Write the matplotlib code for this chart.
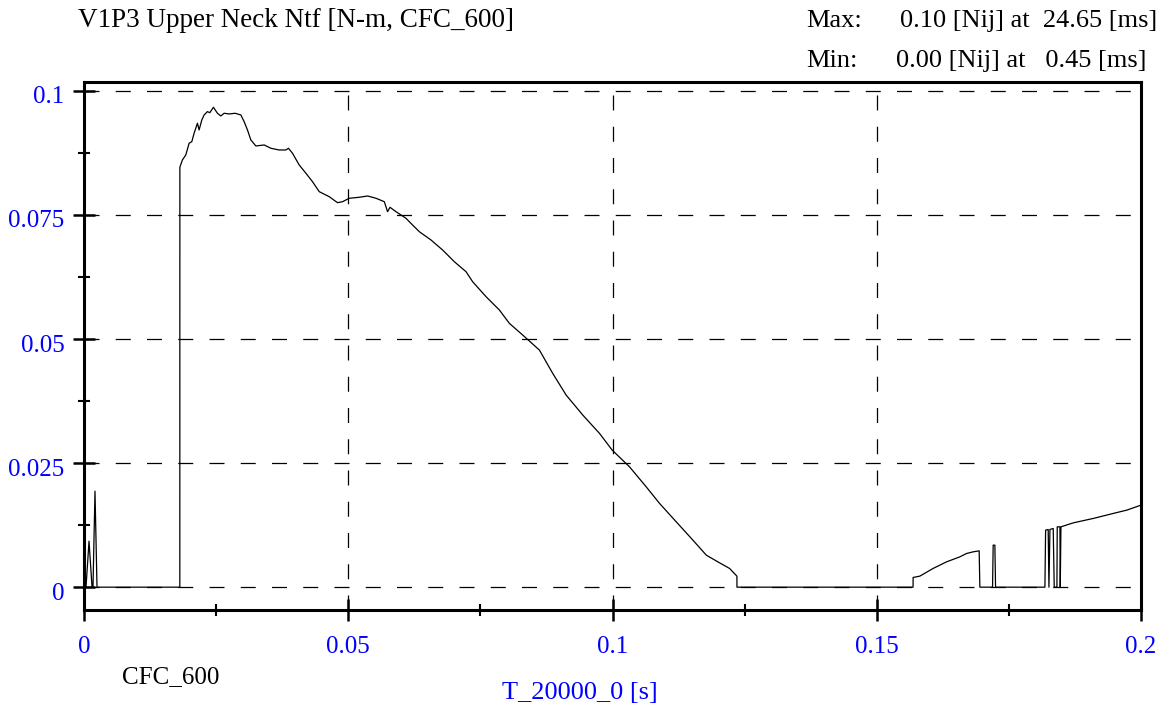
import matplotlib
matplotlib.use("Agg")
import matplotlib.pyplot as plt
from matplotlib.ticker import MultipleLocator
from matplotlib.transforms import ScaledTranslation

# Nij trace: time in ms, value in Nij
t_ms = [0.0, 0.38, 0.95, 1.52, 1.70, 2.08, 2.46, 18.13,
        18.14, 18.62, 19.26, 19.89, 20.40, 20.83, 21.46, 21.78, 22.29, 22.73,
        23.35, 23.81, 24.49, 25.25, 25.89, 26.52, 27.46, 28.60, 29.68, 30.30,
        30.93, 31.57, 32.52, 34.09, 35.36, 36.93, 38.20, 38.69, 39.45, 40.72,
        41.99, 43.24, 44.51, 46.40, 47.97, 48.92, 50.19, 52.08, 53.66, 55.25,
        56.82, 57.44, 57.90, 59.03, 60.93, 61.55, 63.45, 65.66, 67.86, 70.08,
        72.29, 73.54, 76.08, 78.60, 80.49, 83.01, 86.17, 88.69, 91.23, 94.38,
        97.54, 99.94, 103.22, 106.38, 108.90, 112.06, 115.21, 117.75, 120.27,
        122.16, 123.54, 123.55,
        156.87, 156.88, 158.14, 160.66, 163.20, 165.72, 166.99, 168.24, 169.38,
        169.51, 171.91, 172.03, 172.35, 172.48,
        181.82, 181.95, 182.44, 182.58, 182.77, 183.39, 183.58, 184.09, 184.15,
        184.66, 184.72, 184.85,
        187.18, 190.97, 194.75, 197.29, 200.0]
nij = [0.0, 0.0, 0.00927, 0.0, 0.0, 0.01935, 0.0, 0.0,
       0.08462, 0.08609, 0.08710, 0.08946, 0.08978, 0.09147, 0.09349, 0.09214,
       0.09415, 0.09516, 0.09583, 0.09562, 0.09671, 0.09550, 0.09496, 0.09550,
       0.09536, 0.09550, 0.09516, 0.09381, 0.09214, 0.09012, 0.08891, 0.08911,
       0.08845, 0.08810, 0.08810, 0.08845, 0.08744, 0.08508, 0.08341, 0.08171,
       0.07970, 0.07869, 0.07748, 0.07768, 0.07837, 0.07857, 0.07883, 0.07837,
       0.07768, 0.07567, 0.07655, 0.07567, 0.07433, 0.07365, 0.07163, 0.06996,
       0.06794, 0.06558, 0.06357, 0.06155, 0.05853, 0.05585, 0.05316, 0.05081,
       0.04778, 0.04308, 0.03871, 0.03468, 0.03099, 0.02762, 0.02425, 0.02022,
       0.01688, 0.01317, 0.00948, 0.00645, 0.00490, 0.00377, 0.00222, 0.0,
       0.0, 0.00196, 0.00222, 0.00377, 0.00510, 0.00611, 0.00679, 0.00712,
       0.00732, 0.0, 0.0, 0.00847, 0.00847, 0.0,
       0.0, 0.01149, 0.01163, 0.0, 0.01163, 0.01183, 0.0, 0.0, 0.01216,
       0.01216, 0.0, 0.01216,
       0.01296, 0.01385, 0.01486, 0.01552, 0.01653]

x_ticks = [0, 0.05, 0.1, 0.15, 0.2]
x_labels = ["0", "0.05", "0.1", "0.15", "0.2"]
y_ticks = [0, 0.025, 0.05, 0.075, 0.1]
y_labels = ["0", "0.025", "0.05", "0.075", "0.1"]

BLUE = "#0000ff"
W, H = 1167, 710

plt.rcParams["font.family"] = ["Liberation Serif", "DejaVu Serif"]
plt.rcParams["font.size"] = 18

fig = plt.figure(figsize=(W / 100, H / 100), dpi=100)
ax = fig.add_axes([84 / W, 1 - 610 / H, (1141 - 84) / W, (610 - 82) / H])

t_s = [v / 1000.0 for v in t_ms]
ax.plot(t_s, nij, color="black", linewidth=0.9)

ax.set_xlim(0, 0.2)
ax.set_ylim(-0.0046, 0.1018)

ax.set_xticks(x_ticks)
ax.set_xticklabels(x_labels, color=BLUE)
ax.set_yticks(y_ticks)
ax.set_yticklabels(y_labels, color=BLUE)
ax.xaxis.set_minor_locator(MultipleLocator(0.025))
ax.yaxis.set_minor_locator(MultipleLocator(0.0125))

ax.tick_params(which="major", direction="inout", length=16, width=1.8)
ax.tick_params(which="minor", direction="inout", length=9, width=1.5)
ax.tick_params(axis="x", which="major", pad=11)
ax.tick_params(axis="y", which="major", pad=6)
ax.tick_params(top=False, right=False)

# y labels sit a few pixels below their ticks in the original
shift = ScaledTranslation(0, -4 / 100, fig.dpi_scale_trans)
for lab in ax.get_yticklabels():
    lab.set_transform(lab.get_transform() + shift)

for s in ax.spines.values():
    s.set_linewidth(2.2)

# dashed grid lines (skip the ones on the frame)
for y in y_ticks:
    ax.axhline(y, color="black", linewidth=0.9, dashes=(12, 13), zorder=0.5)
for x in x_ticks[1:-1]:
    ax.axvline(x, color="black", linewidth=0.9, dashes=(12, 13), zorder=0.5)


def ftext(x, y, s, **kw):
    fig.text(x / W, 1 - y / H, s, va="baseline", **kw)


ftext(78, 27, "V1P3 Upper Neck Ntf [N-m, CFC_600]", fontsize=19.5)
ftext(806, 27, "Max:", fontsize=19)
ftext(900, 27, "0.10 [Nij] at  24.65 [ms]", fontsize=19)
ftext(806, 67, "Min:", fontsize=19)
ftext(896, 67, "0.00 [Nij] at   0.45 [ms]", fontsize=19)
ftext(122, 683, "CFC_600")
ftext(580, 699, "T_20000_0 [s]", ha="center", color=BLUE, fontsize=19)

fig.savefig("out.png", dpi=100)
